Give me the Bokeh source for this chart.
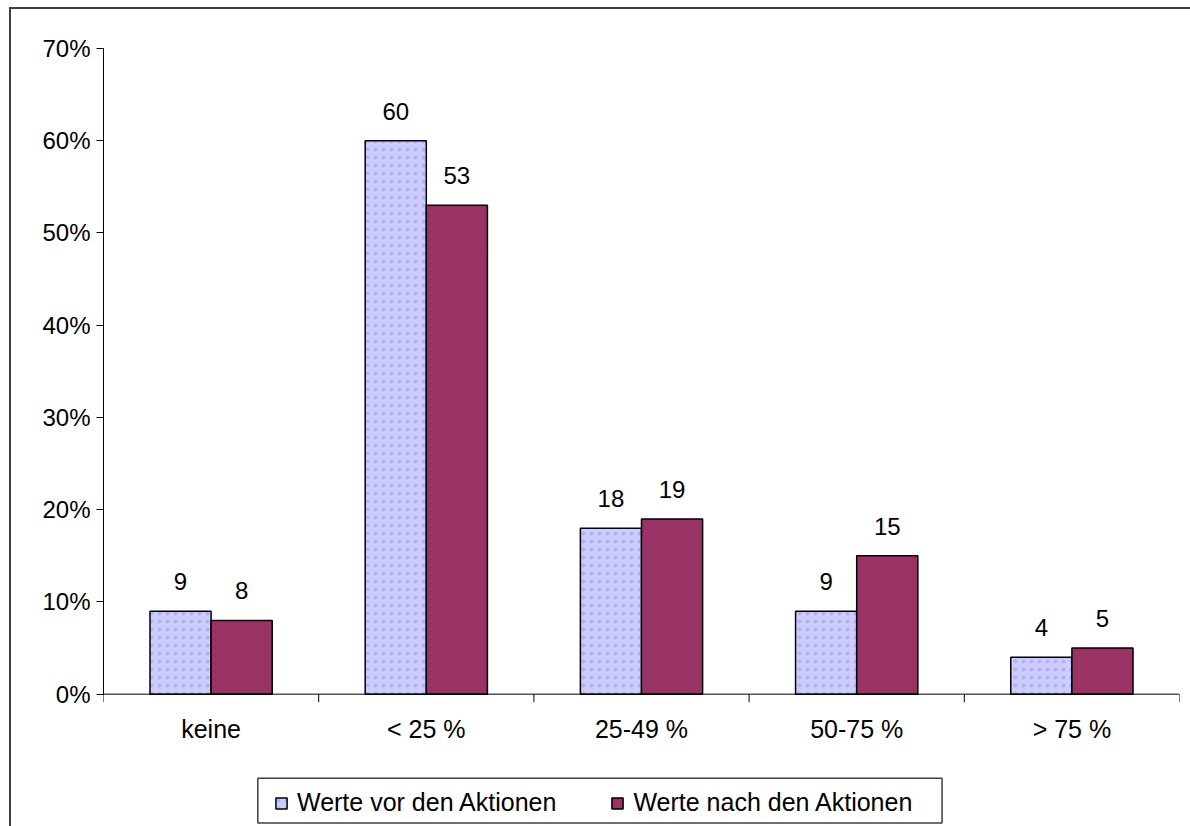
import math
from bokeh.plotting import figure
from bokeh.models import (ColumnDataSource, FixedTicker, LabelSet, Legend, LegendItem,
                          CustomJSTickFormatter, BoxAnnotation, Range1d, Span)
from bokeh.core.properties import value
from bokeh.embed import file_html
from bokeh.resources import INLINE

categories = ["keine", "< 25 %", "25-49 %", "50-75 %", "> 75 %"]
vor = [9, 60, 18, 9, 4]
nach = [8, 53, 19, 15, 5]
series_names = ["Werte vor den Aktionen", "Werte nach den Aktionen"]
y_ticks = [0, 10, 20, 30, 40, 50, 60, 70]

FONT = "Liberation Sans"
BAR_W = 0.284
Y_MAX = 70
LIGHT = dict(fill_color="#CCCCFF", line_color="black", line_width=1.5, hatch_pattern="dot",
             hatch_color="#8f8ff0", hatch_scale=8, hatch_weight=1.0, hatch_alpha=0.45)
DARK = dict(fill_color="#993366", line_color="black", line_width=1.5)

n = len(categories)
centers = [i + 0.5 for i in range(n)]
bounds = list(range(n + 1))
src_vor = ColumnDataSource(dict(x=[c - BAR_W / 2 for c in centers], top=vor,
                                lab=[str(v) for v in vor]))
src_nach = ColumnDataSource(dict(x=[c + BAR_W / 2 for c in centers], top=nach,
                                 lab=[str(v) for v in nach]))
src_cat = ColumnDataSource(dict(x=centers, y=[0] * n, lab=categories))

# page geometry (pixels)
OFF_X, OFF_Y, BW = 9, 7, 2
PAGE_W, PAGE_H = 1190, 826
FRAME_BOTTOM = 828.4                            # measured bottom of the plotting frame
AX_L, AX_R, AX_T, AX_B = 103, 1177, 48, 694     # x-extent of chart, y of 70% and 0%
PX_PER_Y = (AX_B - AX_T) / Y_MAX
PX_PER_X = (AX_R - AX_L) / n
Y_START = -(FRAME_BOTTOM - AX_B) / PX_PER_Y


def px_x(px):
    return (px - AX_L) / PX_PER_X


def px_y(py):
    return (AX_B - py) / PX_PER_Y


p = figure(width=PAGE_W - OFF_X - BW, height=PAGE_H - OFF_Y - BW,
           x_range=Range1d(0, n), y_range=Range1d(Y_START, Y_MAX),
           output_backend="svg", toolbar_location=None,
           min_border_left=AX_L - OFF_X - BW, min_border_right=PAGE_W - AX_R,
           min_border_top=AX_T - OFF_Y - BW, min_border_bottom=0,
           x_axis_location=None)
p.margin = (OFF_Y, 0, 0, OFF_X)
p.styles = {"border-top": "2px solid #404040", "border-left": "2px solid #404040",
            "box-sizing": "content-box"}
p.outline_line_color = None
p.xgrid.grid_line_color = None
p.ygrid.grid_line_color = None
p.background_fill_color = "white"
p.border_fill_color = "white"

r1 = p.vbar(x="x", top="top", width=BAR_W, source=src_vor, **LIGHT)
r2 = p.vbar(x="x", top="top", width=BAR_W, source=src_nach, **DARK)

for s in (src_vor, src_nach):
    p.add_layout(LabelSet(x="x", y="top", text="lab", source=s, text_align="center",
                          text_baseline="alphabetic", y_offset=21, text_font=value(FONT),
                          text_font_size="24px", text_color="black"))

# y axis (real axis, limited to 0..70)
ya = p.yaxis[0]
ya.bounds = (0, Y_MAX)
ya.ticker = FixedTicker(ticks=y_ticks, minor_ticks=[])
ya.formatter = CustomJSTickFormatter(code="return tick + '%';")
ya.major_tick_out = 7
ya.major_tick_in = 0
ya.minor_tick_out = 0
ya.minor_tick_in = 0
ya.major_tick_line_color = "black"
ya.axis_line_color = "black"
ya.major_label_text_font = FONT
ya.major_label_text_font_size = "24px"
ya.major_label_text_color = "black"
ya.major_label_standoff = 6

# category axis drawn at y = 0 through the plot's scales
p.add_layout(Span(location=0, dimension="width", line_color="black", line_width=1))
p.ray(x=bounds, y=[0] * len(bounds), length=8, length_units="screen",
      angle=-math.pi / 2, line_color="black", line_width=1)
p.add_layout(LabelSet(x="x", y="y", text="lab", source=src_cat, text_align="center",
                      text_baseline="top", y_offset=-21, text_font=value(FONT),
                      text_font_size="25px", text_color="black"))

# legend with its frame
LEG = dict(left=257, right=940, top=778, bottom=823)
p.add_layout(BoxAnnotation(left=px_x(LEG["left"]), right=px_x(LEG["right"]),
                           top=px_y(LEG["top"]), bottom=px_y(LEG["bottom"]),
                           fill_color="white", fill_alpha=1, line_color="#404040",
                           line_width=1.5, line_alpha=1))

legend = Legend(items=[LegendItem(label=series_names[0], renderers=[r1]),
                       LegendItem(label=series_names[1], renderers=[r2])],
                orientation="horizontal",
                location=(274 - AX_L, 11))
legend.label_text_font = FONT
legend.label_text_font_size = "25px"
legend.label_text_color = "black"
legend.glyph_width = 14
legend.glyph_height = 14
legend.label_standoff = 9
legend.spacing = 54
legend.padding = 8
legend.margin = 0
legend.border_line_color = None
legend.background_fill_alpha = 0
p.add_layout(legend, "center")

open("out.html", "w").write(file_html(p, INLINE))
